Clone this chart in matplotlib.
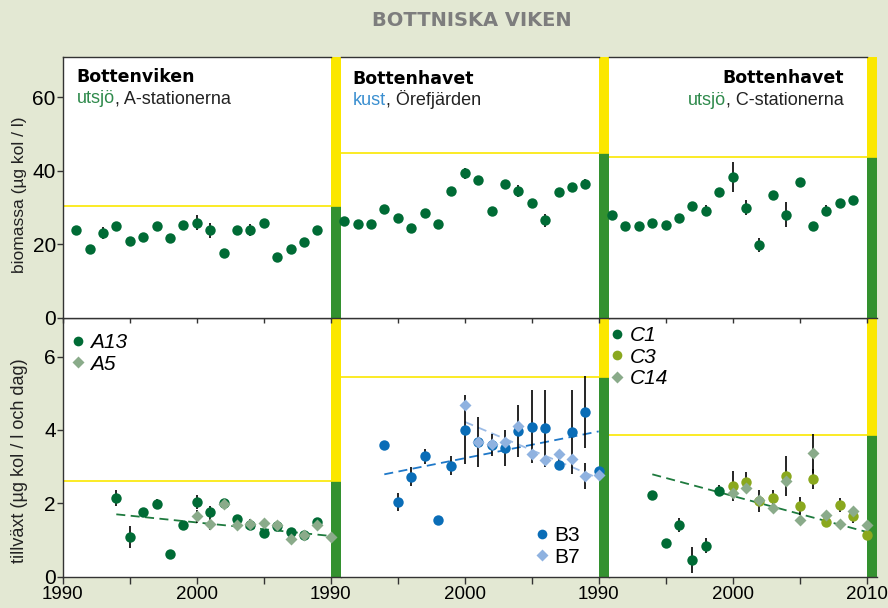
import matplotlib.pyplot as plt
from matplotlib.lines import Line2D

plt.rcParams['font.family'] = ['Liberation Sans', 'DejaVu Sans']

# --- data ---
# biomassa (top row)
bio_years = list(range(1991, 2010))
bio_a = [24.0, 18.6, 23.0, 25.1, 20.8, 22.0, 25.1, 21.7, 25.2, 25.9, 23.8, 17.7, 24.0, 23.8, 25.9, 16.6, 18.7, 20.7, 24.0]
bio_a_err = [0, 0, 1.6, 0, 0, 0, 0, 0, 0, 2.1, 2.1, 0, 0, 1.6, 0, 0, 0, 0, 0]
bio_b = [26.3, 25.5, 25.5, 29.5, 27.3, 24.4, 28.5, 25.5, 34.4, 39.4, 37.4, 29.2, 36.4, 34.5, 31.3, 26.5, 34.3, 35.5, 36.5]
bio_b_err = [0, 0, 0, 0, 0, 0, 0, 0, 0, 1.5, 1.2, 0, 0, 1.7, 0, 1.7, 0, 0, 1.2]
bio_c = [28.0, 25.0, 25.0, 25.9, 25.3, 27.3, 30.5, 29.2, 34.2, 38.3, 30.0, 19.8, 33.3, 28.0, 37.1, 25.0, 29.1, 31.3, 32.1]
bio_c_err = [0, 0, 0, 0, 0, 0, 0, 1.5, 0, 4.1, 2.0, 2.0, 0, 3.4, 0, 0, 1.5, 0, 0]

# tillväxt (bottom row)
a13_years = list(range(1994, 2010))
a13 = [2.14, 1.08, 1.77, 1.99, 0.61, 1.41, 2.04, 1.75, 2.00, 1.56, 1.41, 1.19, 1.39, 1.22, 1.15, 1.50]
a13_err = [0.22, 0.30, 0, 0.12, 0, 0, 0.20, 0.18, 0, 0.10, 0.15, 0, 0, 0, 0, 0.10]
a5_years = list(range(2000, 2011))
a5 = [1.65, 1.43, 1.99, 1.40, 1.43, 1.45, 1.40, 1.04, 1.15, 1.41, 1.09]
a5_err = [0.18, 0.15, 0, 0, 0, 0, 0, 0, 0, 0, 0]

b3_years = list(range(1994, 2011))
b3 = [3.60, 2.04, 2.73, 3.28, 1.55, 3.03, 4.00, 3.67, 3.59, 3.51, 3.97, 4.09, 4.04, 3.05, 3.95, 4.50, 2.89]
b3_err = [0.10, 0.25, 0.25, 0.20, 0, 0.25, 0.94, 0.69, 0.30, 0.50, 0.70, 1.00, 1.05, 0.15, 1.15, 0.98, 0]
b7_years = list(range(2000, 2011))
b7 = [4.69, 3.68, 3.61, 3.67, 4.12, 3.34, 3.18, 3.34, 3.22, 2.74, 2.78]
b7_err = [0, 0, 0, 0, 0, 0, 0, 0, 0, 0.35, 0]

c1_years = list(range(1994, 2000))
c1 = [2.24, 0.91, 1.41, 0.45, 0.85, 2.34]
c1_err = [0, 0, 0.20, 0.35, 0.20, 0.15]
c3_years = list(range(2000, 2011))
c3 = [2.47, 2.59, 2.07, 2.15, 2.75, 1.93, 2.67, 1.49, 1.95, 1.65, 1.13]
c3_err = [0.40, 0.25, 0.30, 0.20, 0.55, 0.25, 0.27, 0, 0.20, 0.20, 0]
c14_years = list(range(2000, 2011))
c14 = [2.29, 2.43, 2.09, 1.88, 2.62, 1.54, 3.36, 1.69, 1.44, 1.79, 1.40]
c14_err = [0, 0, 0, 0, 0, 0, 0.53, 0, 0, 0, 0]

# trend lines (end points)
trend_a = ([1994, 2010], [1.70, 1.11])
trend_b3 = ([1994, 2010], [2.79, 3.96])
trend_b7 = ([2000, 2010], [4.22, 2.68])
trend_c = ([1994, 2010], [2.79, 1.22])

# target levels (yellow lines)
limit_bio = [30.5, 45.0, 43.7]
limit_growth = [2.61, 5.44, 3.85]

# colours
BG = '#e3e8d3'
YEL = '#fbe700'
BARGREEN = '#33912f'
DKGREEN = '#006b35'
SAGE = '#8aab8a'
OLIVE = '#8aa81e'
BLUE = '#0a6db7'
LTBLUE = '#8fb2e0'
SPINE = '#333333'

W, H = 888, 608
fig = plt.figure(figsize=(W / 100, H / 100), dpi=100, facecolor=BG)


def rect(x, y, w, h):
    return [x / W, 1 - (y + h) / H, w / W, h / H]


pxyr = 13.4
lefts = [62.7, 62.7 + 20.75 * pxyr, 62.7 + 40.75 * pxyr]
widths = [20.75 * pxyr, 20 * pxyr, 20 * pxyr]
xlims = [(1990, 2010.75), (1990.75, 2010.75), (1990.75, 2010.75)]
ticklabels = [['1990', '', '2000', '', '1990'],
              ['', '2000', '', '1990'],
              ['', '2000', '', '2010']]
ticks = [[1990, 1995, 2000, 2005, 2010], [1995, 2000, 2005, 2010], [1995, 2000, 2005, 2010]]


def setup(ax, i, top):
    ax.set_xlim(*xlims[i])
    if top:
        ax.set_ylim(0, 71)
        lim = limit_bio[i]
        ymax = 71
    else:
        ax.set_ylim(0, 7.05)
        lim = limit_growth[i]
        ymax = 7.05
    ax.axvspan(2010, 2010.75, ymin=0, ymax=lim / ymax, color=BARGREEN, lw=0, zorder=1)
    ax.axvspan(2010, 2010.75, ymin=lim / ymax, ymax=1, color=YEL, lw=0, zorder=1)
    ax.axhline(lim, color=YEL, lw=1.2, zorder=1)
    for s in ['top', 'bottom', 'left', 'right']:
        ax.spines[s].set_color(SPINE)
        ax.spines[s].set_linewidth(1)
    ax.spines['right'].set_visible(False)
    ax.spines['top'].set_bounds(xlims[i][0], 2010)
    if i > 0:
        ax.spines['left'].set_visible(False)
    ax.set_xticks(ticks[i])
    if top:
        ax.tick_params(axis='x', direction='out', length=3.5, width=1, color=SPINE, labelbottom=False)
    else:
        ax.set_xticklabels(ticklabels[i])
        ax.tick_params(axis='x', direction='out', length=5, width=1, color=SPINE, labelsize=13.5, pad=2)
    if i == 0:
        if top:
            ax.set_yticks([0, 20, 40, 60])
        else:
            ax.set_yticks([0, 2, 4, 6])
        ax.tick_params(axis='y', direction='out', length=4, width=1, color=SPINE, labelsize=15, pad=1)
    else:
        ax.set_yticks([])


def points(ax, x, y, err, color, marker, ms):
    ax.errorbar(x, y, yerr=err, fmt='none', ecolor='black', elinewidth=1.2, capsize=0, zorder=3, clip_on=False)
    ax.plot(x, y, linestyle='none', marker=marker, color=color, ms=ms, mec='none', zorder=4, clip_on=False)


top_axes = []
bot_axes = []
for i in range(3):
    axb = fig.add_axes(rect(lefts[i], 318, widths[i], 258.7), zorder=1)
    axt = fig.add_axes(rect(lefts[i], 57, widths[i], 260.8), zorder=2)
    setup(axt, i, True)
    setup(axb, i, False)
    top_axes.append(axt)
    bot_axes.append(axb)

# top row
for ax, vals, err in zip(top_axes, [bio_a, bio_b, bio_c], [bio_a_err, bio_b_err, bio_c_err]):
    points(ax, bio_years, vals, err, DKGREEN, 'o', 7.5)

# bottom row
ax = bot_axes[0]
ax.plot(*trend_a, ls=(0, (5, 3)), color='#1e7a3e', lw=1.3, zorder=2)
points(ax, a13_years, a13, a13_err, DKGREEN, 'o', 7.5)
points(ax, a5_years, a5, a5_err, SAGE, 'D', 6.5)

ax = bot_axes[1]
ax.plot(*trend_b3, ls=(0, (5, 3)), color='#1f78c8', lw=1.3, zorder=2)
ax.plot(*trend_b7, ls=(0, (5, 3)), color='#9bbbe6', lw=1.3, zorder=2)
points(ax, b3_years, b3, b3_err, BLUE, 'o', 7.5)
points(ax, b7_years, b7, b7_err, LTBLUE, 'D', 6.5)

ax = bot_axes[2]
ax.plot(*trend_c, ls=(0, (5, 3)), color='#1e7a3e', lw=1.3, zorder=2)
points(ax, c1_years, c1, c1_err, DKGREEN, 'o', 7.5)
points(ax, c3_years, c3, c3_err, OLIVE, 'o', 7.5)
points(ax, c14_years, c14, c14_err, SAGE, 'D', 6.5)


def handle(color, marker):
    return Line2D([], [], linestyle='none', marker=marker, color=color, mec='none',
                  ms=7 if marker == 'o' else 6.5)


leg_kw = dict(frameon=False, handlelength=0.8, handletextpad=0.2, labelspacing=0.12,
              borderpad=0, borderaxespad=0)
bot_axes[0].legend([handle(DKGREEN, 'o'), handle(SAGE, 'D')], ['A13', 'A5'],
                   loc='upper left', bbox_to_anchor=(0.025, 0.941),
                   prop=dict(size=15, style='italic'), **leg_kw)
bot_axes[1].legend([handle(BLUE, 'o'), handle(LTBLUE, 'D')], ['B3', 'B7'],
                   loc='lower left', bbox_to_anchor=(0.72, 0.039),
                   prop=dict(size=15), **leg_kw)
bot_axes[2].legend([handle(DKGREEN, 'o'), handle(OLIVE, 'o'), handle(SAGE, 'D')], ['C1', 'C3', 'C14'],
                   loc='upper left', bbox_to_anchor=(0.0, 0.968),
                   prop=dict(size=15, style='italic'), **leg_kw)


# panel headings
def heading(ax, x, y, title, colored, color, rest, right=False):
    ha = 'right' if right else 'left'
    ax.text(x, y, title, transform=ax.transAxes, ha=ha, va='baseline',
            fontsize=12.5, fontweight='bold', color='black', family='DejaVu Sans')
    if right:
        t = ax.text(x, y - 0.097, rest, transform=ax.transAxes, ha='right', va='bottom',
                    fontsize=13, color='#222222')
        ax.annotate(colored, xy=(0, 0), xycoords=t, ha='right', va='bottom',
                    fontsize=13, color=color)
    else:
        t = ax.text(x, y - 0.097, colored, transform=ax.transAxes, ha='left', va='bottom',
                    fontsize=13, color=color)
        ax.annotate(rest, xy=(1, 0), xycoords=t, ha='left', va='bottom',
                    fontsize=13, color='#222222')


heading(top_axes[0], 0.050, 0.905, 'Bottenviken', 'utsjö', '#2f8a4c', ', A-stationerna')
heading(top_axes[1], 0.045, 0.896, 'Bottenhavet', 'kust', '#3a8fd0', ', Örefjärden')
heading(top_axes[2], 0.878, 0.899, 'Bottenhavet', 'utsjö', '#2f8a4c', ', C-stationerna', right=True)

fig.text(472 / W, 1 - 20 / H, 'BOTTNISKA VIKEN', ha='center', va='center',
         fontsize=14, fontweight='bold', color='#7d7d7d', family='DejaVu Sans')
fig.text(20 / W, 1 - 195 / H, 'biomassa (µg kol / l)', rotation=90, ha='center', va='center',
         fontsize=12.5, color='#222222')
fig.text(20 / W, 1 - 461 / H, 'tillväxt (µg kol / l och dag)', rotation=90, ha='center', va='center',
         fontsize=13, color='#222222')

fig.savefig('out.png', dpi=100, facecolor=BG)
